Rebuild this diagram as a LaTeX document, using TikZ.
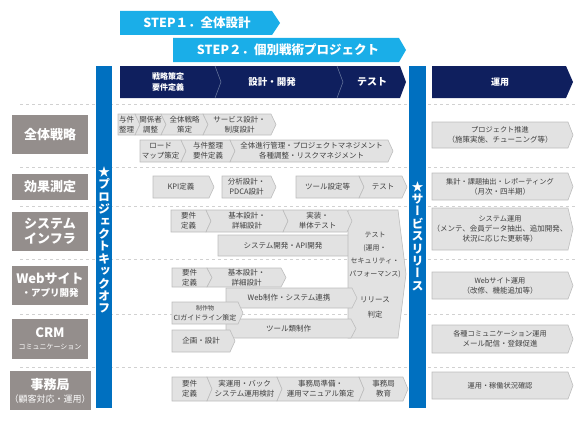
\documentclass[tikz,border=0pt]{standalone}
\usepackage{fontspec}
\setmainfont{Noto Sans CJK JP}
\newfontfamily\vjp[RawFeature={+vert}]{Noto Sans CJK JP}
\usepackage{xcolor}
\usepackage{tikz}
\definecolor{sky}{HTML}{1AAEE8}
\definecolor{navy}{HTML}{0F1F5E}
\definecolor{kickblue}{HTML}{0070C0}
\definecolor{rowgray}{HTML}{948E8C}
\definecolor{boxgray}{HTML}{E2E2E2}
\definecolor{boxline}{HTML}{BDBDBD}
\definecolor{txtgray}{HTML}{404040}
\definecolor{sepline}{HTML}{6F7FA3}

% chevron: [notch]{name}{x1}{y1}{x2}{y2}{text}
\newcommand{\chv}[7][0]{%
  \draw[chev] (#3,#4) -- ({#5-5},#4) -- (#5,{(#4+#6)/2}) -- ({#5-5},#6) -- (#3,#6) -- ({#3+#1},{(#4+#6)/2}) -- cycle;
  \node[chevtxt] (#2) at ({(#3+#5)/2+#1/2-2.5},{(#4+#6)/2}) {#7};}
\newcommand{\opsfont}{\fontsize{7.2}{10.5}\selectfont}

\begin{document}
\begin{tikzpicture}[x=1pt,y=-1pt,
  chev/.style={fill=boxgray,draw=boxline,line width=0.6pt},
  chevtxt/.style={align=center,inner sep=0pt,text=txtgray,font=\fontsize{7.5}{10}\selectfont},
  rowbox/.style={fill=rowgray,text=white,inner sep=0pt,minimum width=76pt,align=center,font=\bfseries\fontsize{13}{15}\selectfont},
  headtxt/.style={text=white,align=center,inner sep=0pt,font=\bfseries},
  vtext/.style={text=white,align=center,inner sep=0pt,font=\vjp\bfseries\fontsize{12}{12.4}\selectfont},
  sep/.style={boxline!70,dashed,line width=0.5pt}]
\useasboundingbox (0,0) rectangle (580,420);

% row separators
\foreach \yy in {104,167,206,259,314,367}
  \draw[sep] (20,\yy) -- (575,\yy);

% step arrows
\fill[sky] (120,11) -- (272,11) -- (280,23) -- (272,35) -- (120,35) -- cycle;
\node[headtxt,font=\bfseries\fontsize{12.5}{14}\selectfont] (step1) at (197,23) {STEP１．全体設計};
\fill[sky] (173,38) -- (399,38) -- (406,50) -- (399,62) -- (173,62) -- cycle;
\node[headtxt,font=\bfseries\fontsize{12.5}{14}\selectfont] (step2) at (288,50) {STEP２．個別戦術プロジェクト};

% phase header
\fill[navy] (120,66) -- (400,66) -- (406,82) -- (400,98) -- (120,98) -- cycle;
\draw[sepline,line width=0.5pt] (215,66) -- (221,82) -- (215,98);
\draw[sepline,line width=0.5pt] (337,66) -- (343,82) -- (337,98);
\node[headtxt,font=\bfseries\fontsize{8}{11}\selectfont] (plan) at (168,82) {戦略策定\\要件定義};
\node[headtxt,font=\bfseries\fontsize{9.5}{11}\selectfont] (dev) at (272,82) {設計・開発};
\node[headtxt,font=\bfseries\fontsize{10}{11}\selectfont] (test) at (372,82) {テスト};
\fill[navy] (432,66) -- (566,66) -- (573,82) -- (566,98) -- (432,98) -- cycle;
\node[headtxt,font=\bfseries\fontsize{9}{11}\selectfont] (ops) at (500,82) {運用};

% kickoff / release bars
\fill[kickblue] (96,66) rectangle (112,408);
\node[vtext] (kickoff) at (104,240) {★\\プ\\ロ\\ジ\\ェ\\ク\\ト\\キ\\ッ\\ク\\オ\\フ};
\fill[kickblue] (409,66) rectangle (426,408);
\node[vtext] (release) at (417.5,236) {★\\サ\\ー\\ビ\\ス\\リ\\リ\\ー\\ス};

% row labels
\node[rowbox,minimum height=39pt] (zentai) at (50,134.5) {全体戦略};
\node[rowbox,minimum height=26pt] (kouka) at (50,187) {効果測定};
\node[rowbox,minimum height=39pt] (system) at (50,231.5) {システム\\インフラ};
\node[rowbox,minimum height=39pt] (web) at (50,285.5) {Webサイト\\[-2pt]{\fontsize{9.5}{11}\selectfont ・アプリ開発}};
\node[rowbox,minimum height=40pt] (crm) at (50,339) {CRM\\[-3pt]{\mdseries\fontsize{7}{9}\selectfont コミュニケーション}};
\node[rowbox,minimum height=39pt] (jimukyoku) at (50,390.5) {事務局\\[-2pt]{\mdseries\fontsize{9}{11}\selectfont （顧客対応・運用）}};

% zentai senryaku
\chv{yoken}{118}{114}{140}{135}{与件\\整理}
\chv[5]{kankei}{135}{114}{166}{135}{関係者\\調整}
\chv[5]{senryaku}{161}{114}{208}{135}{全体戦略\\策定}
\chv[5]{service}{203}{114}{276}{135}{サービス設計・\\制度設計}
\chv{roadmap}{140}{140}{186}{162}{ロード\\マップ策定}
\chv[5]{yoken2}{181}{140}{235}{162}{与件整理\\要件定義}
\chv[5]{pm}{230}{140}{393}{162}{全体進行管理・プロジェクトマネジメント\\各種調整・リスクマネジメント}

% kouka sokutei
\chv{kpi}{153}{176}{214}{198}{KPI定義}
\chv{bunseki}{222}{176}{276}{198}{分析設計・\\PDCA設計}
\chv{toolset}{296}{176}{364}{198}{ツール設定等}
\chv[5]{test2}{359}{176}{407}{198}{テスト}

% system infra / web / crm
\chv{apidev}{218}{235}{353}{256}{システム開発・API開発}
\draw[chev] (348,210) -- (398,210) -- (406,274) -- (398,338) -- (348,338) -- cycle;
\node[chevtxt,font=\fontsize{7}{13.3}\selectfont] (test3) at (375,255) {テスト\\(運用・\\セキュリティ・\\パフォーマンス)};
\node[chevtxt,font=\fontsize{7.5}{15}\selectfont] (hantei) at (375,307) {リリース\\判定};
\chv{yoken3}{171}{210}{211}{232}{要件\\定義}
\chv[5]{kihon3}{206}{210}{288}{232}{基本設計・\\詳細設計}
\chv[5]{jisso}{283}{210}{352}{232}{実装・\\単体テスト}
\chv{yoken4}{172}{268}{212}{287}{要件\\定義}
\chv[5]{kihon4}{207}{268}{286}{287}{基本設計・\\詳細設計}
\chv{webdev}{226}{288}{357}{308}{Web制作・システム連携}
\chv{tools}{226}{319}{356}{338}{ツール類制作}
\chv{ci}{172}{302}{243}{324}{{\fontsize{6}{7}\selectfont 制作物}\\{\fontsize{7}{9}\selectfont CIガイドライン策定}}
\chv{kikaku}{172}{330}{235}{352}{企画・設計}

% jimukyoku
\chv{yoken6}{172}{377}{212}{401}{要件\\定義}
\chv[5]{jitsu}{207}{377}{282}{401}{実運用・バック\\システム運用検討}
\chv[5]{jimu}{277}{377}{364}{401}{事務局準備・\\運用マニュアル策定}
\chv[5]{kyoiku}{359}{377}{408}{401}{事務局\\教育}

% unyou
\chv{ops1}{432}{122}{573}{148}{\opsfont プロジェクト推進\\（施策実施、チューニング等）}
\chv{ops2}{432}{173}{573}{200}{\opsfont 集計・課題抽出・レポーティング\\（月次・四半期）}
\chv{ops3}{432}{208}{573}{250}{\opsfont システム運用\\（メンテ、会員データ抽出、追加開発、\\状況に応じた更新等）}
\chv{ops4}{432}{272}{573}{299}{\opsfont Webサイト運用\\（改修、機能追加等）}
\chv{ops5}{432}{325}{573}{353}{\opsfont 各種コミュニケーション運用\\メール配信・登録促進}
\chv{ops6}{432}{372}{573}{399}{\opsfont 運用・稼働状況確認}
\end{tikzpicture}
\end{document}
